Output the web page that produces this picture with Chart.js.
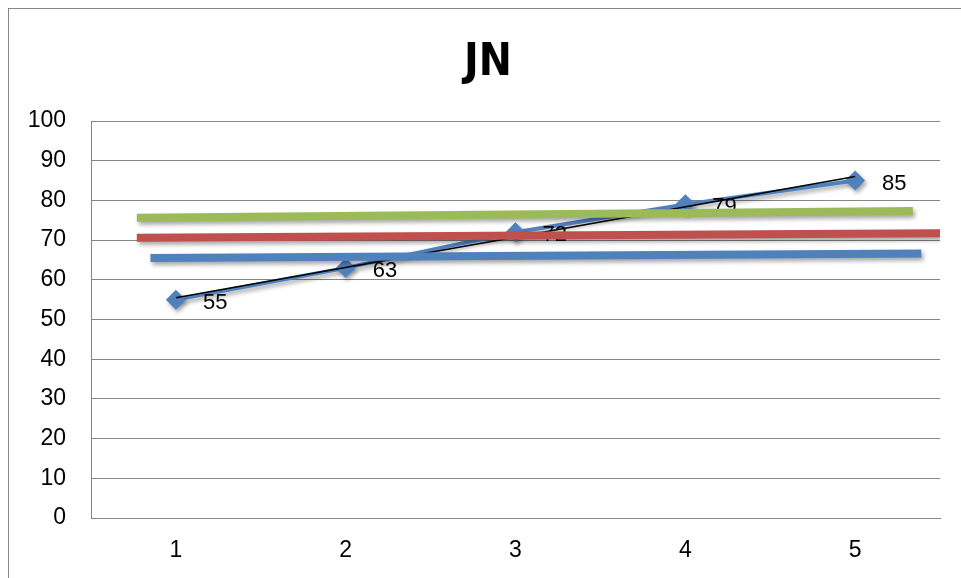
<!DOCTYPE html>
<html>
<head>
<meta charset="utf-8">
<script src="https://cdn.jsdelivr.net/npm/chart.js@4/dist/chart.umd.min.js"></script>
<style>
  html, body { margin: 0; padding: 0; background: #fff; }
  #wrap { width: 961px; height: 578px; }
</style>
</head>
<body>
<div id="wrap"><canvas id="myChart"></canvas></div>
<script>
const chartTitle = 'JN';
const categories = ['1', '2', '3', '4', '5'];
const values = [55, 63, 72, 79, 85];
// trendline (start at 1, end at 5)
const trendX = [1, 5];
const trendY = [55.5, 86];
// the three flat bars: x from / to (in category units), y from / to
const greenX = [0.77, 5.34];
const greenY = [75.6, 77.3];
const redX = [0.77, 5.5];
const redY = [70.6, 71.7];
const blueX = [0.85, 5.39];
const blueY = [65.5, 66.6];

const grey = '#868686';
const num = '"Liberation Sans", Arial, sans-serif';

const toPts = (xs, ys) => xs.map((x, i) => ({ x: x, y: ys[i] }));

const frame = {
  id: 'frame',
  beforeDraw(chart) {
    const c = chart.ctx;
    c.save();
    c.strokeStyle = grey;
    c.lineWidth = 1;
    c.strokeRect(8.5, 8.5, 1200, 1200);
    c.restore();
  },
  afterDraw(chart) {
    // title sits a bit right of centre, like the original
    const c = chart.ctx;
    c.save();
    c.fillStyle = '#000';
    c.font = 'bold 44px "Liberation Sans Narrow", "DejaVu Sans Condensed", sans-serif';
    c.textAlign = 'center';
    c.textBaseline = 'alphabetic';
    c.fillText(chartTitle, 488, 75);
    c.restore();
  }
};

const shadow = {
  id: 'shadow',
  beforeDatasetDraw(chart, args) {
    const ds = chart.data.datasets[args.index];
    if (!ds.shadow) return;
    const c = chart.ctx;
    c.save();
    c.shadowColor = 'rgba(0,0,0,0.35)';
    c.shadowBlur = 4;
    c.shadowOffsetX = 2;
    c.shadowOffsetY = 3;
  },
  afterDatasetDraw(chart, args) {
    const ds = chart.data.datasets[args.index];
    if (!ds.shadow) return;
    chart.ctx.restore();
  }
};

const labels = {
  id: 'labels',
  afterDatasetDraw(chart, args) {
    if (args.index !== 0) return;
    const c = chart.ctx;
    c.save();
    c.fillStyle = '#000';
    c.font = '22px ' + num;
    c.textAlign = 'left';
    c.textBaseline = 'middle';
    args.meta.data.forEach((p, i) => {
      c.fillText(String(values[i]), p.x + 27, p.y + 3);
    });
    c.restore();
  }
};

const ctx = document.getElementById('myChart');
const myChart = new Chart(ctx, {
  type: 'line',
  data: {
    datasets: [
      {
        label: chartTitle,
        data: values.map((v, i) => ({ x: i + 1, y: v })),
        borderColor: '#4F81BD',
        backgroundColor: '#4F81BD',
        borderWidth: 4,
        pointStyle: 'rectRot',
        pointRadius: 10,
        pointBorderWidth: 0,
        shadow: true,
        order: 5,
      },
      {
        label: 'trend',
        data: toPts(trendX, trendY),
        borderColor: '#000',
        borderWidth: 1.5,
        pointRadius: 0,
        order: 4,
      },
      {
        label: 'green',
        data: toPts(greenX, greenY),
        borderColor: '#9BBB59',
        borderWidth: 8,
        borderCapStyle: 'butt',
        pointRadius: 0,
        shadow: true,
        order: 3,
      },
      {
        label: 'red',
        data: toPts(redX, redY),
        borderColor: '#C0504D',
        borderWidth: 8,
        borderCapStyle: 'butt',
        pointRadius: 0,
        shadow: true,
        order: 2,
      },
      {
        label: 'blue',
        data: toPts(blueX, blueY),
        borderColor: '#4F81BD',
        borderWidth: 8,
        borderCapStyle: 'butt',
        pointRadius: 0,
        shadow: true,
        order: 1,
      },
    ],
  },
  options: {
    responsive: true,
    maintainAspectRatio: false,
    animation: false,
    layout: { padding: { left: 0, right: 21, top: 121, bottom: 0 } },
    plugins: {
      legend: { display: false },
      tooltip: { enabled: false },
      title: { display: false },
    },
    scales: {
      x: {
        type: 'linear',
        min: 0.5,
        max: 5.5,
        afterBuildTicks: (s) => { s.ticks = categories.map((c, i) => ({ value: i + 1 })); },
        afterFit: (s) => { s.height = 60; },
        grid: { display: false, drawTicks: false },
        border: { display: true, color: grey, width: 1 },
        ticks: {
          color: '#000',
          font: { family: num, size: 23 },
          padding: 19,
          maxRotation: 0,
          callback: (v) => categories[v - 1],
        },
      },
      y: {
        min: 0,
        max: 100,
        afterFit: (s) => { s.width = 91; },
        grid: { color: grey, drawTicks: false },
        border: { display: true, color: grey, width: 1 },
        ticks: {
          stepSize: 10,
          color: '#000',
          font: { family: num, size: 23 },
          padding: 25,
        },
      },
    },
  },
  plugins: [frame, shadow, labels],
});
</script>
</body>
</html>
